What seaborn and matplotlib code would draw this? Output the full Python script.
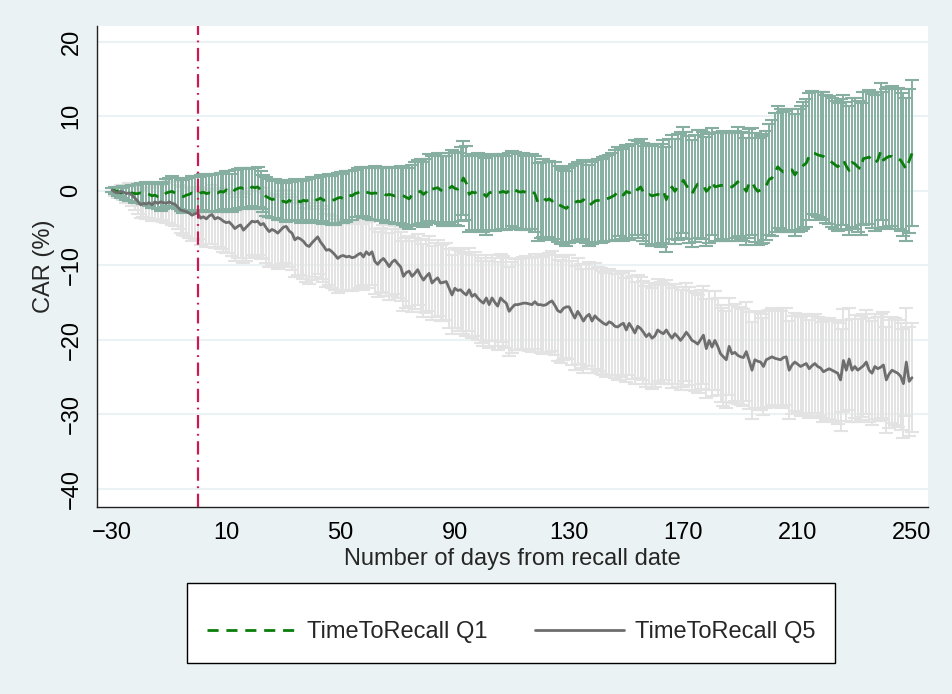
import numpy as np
import pandas as pd
import matplotlib
matplotlib.use("Agg")
import matplotlib.pyplot as plt
from matplotlib.patches import Rectangle
import seaborn as sns

# ---------------- data ----------------
days = np.arange(-30, 251)

q1_mean = [
    0.1, 0.0, -0.1, -0.3, -0.2, -0.3, -0.4, -0.3, -0.4, -0.4,
    -0.3, -0.4, -0.3, -0.5, -0.7, -0.6, -0.8, -0.9, -0.6, -0.3,
    -0.2, -0.1, -0.3, -0.4, -0.6, -0.8, -0.6, -0.5, -0.3, -0.4,
    -0.5, -0.3, -0.2, -0.4, -0.3, -0.4, -0.2, -0.3, -0.1, -0.2,
    0.1, -0.1, -0.3, 0.1, 0.3, 0.4, 0.3, 0.4, 0.2, 0.5,
    0.4, 0.5, 0.1, -0.4, -0.8, -1.0, -1.2, -1.1, -1.3, -1.5,
    -1.4, -1.6, -1.3, -1.5, -1.2, -1.4, -1.5, -1.3, -1.4, -1.2,
    -1.1, -1.3, -1.2, -1.0, -1.3, -1.2, -1.1, -1.3, -1.2, -1.0,
    -0.9, -1.1, -0.8, -0.6, -0.7, -0.4, -0.3, -0.1, -0.3, -0.2,
    -0.3, -0.4, -0.3, -0.4, -0.5, -0.4, -0.6, -0.5, -0.6, -0.7,
    -0.6, -0.6, -0.7, -0.9, -1.1, -0.6, -0.4, -0.2, -0.1, -0.5,
    -0.2, 0.4, 0.2, 0.3, 0.4, 0.1, -0.1, 0.0, 0.3, 0.6,
    0.3, 0.2, 0.9, 1.7, 1.0, -0.5, -0.2, -0.3, -0.1, -0.3,
    -0.4, -0.8, -0.3, -0.2, -0.4, -0.3, -0.2, -0.1, -0.3, 0.0,
    0.3, 0.1, -0.1, -0.2, -0.1, -0.3, -0.2, -0.1, -0.4, -1.5,
    -1.2, -1.0, -1.3, -1.1, -1.4, -1.3, -1.8, -2.0, -2.2, -2.4,
    -2.0, -1.8, -1.6, -1.4, -1.5, -1.2, -1.6, -2.0, -1.7, -1.4,
    -1.3, -1.4, -1.2, -1.1, -1.0, -0.8, -0.6, -0.1, -0.4, -0.6,
    -0.1, -0.3, -0.1, 0.4, 0.1, 0.5, -0.2, -0.6, -0.5, -0.7,
    -0.6, -0.5, -0.6, -0.1, -1.2, -0.1, 0.5, -0.1, 0.5, 0.8,
    1.4, 0.7, 0.2, -0.4, 0.3, 0.9, 0.8, 0.7, -0.1, 0.3,
    1.2, 0.5, 0.6, 0.7, 0.7, 0.5, 0.5, 0.5, 0.8, 1.2,
    0.7, 0.5, -0.1, 1.0, 1.2, 0.4, -0.1, 0.1, 0.3, 0.7,
    1.5, 1.7, 2.4, 3.2, 2.8, 2.5, 2.6, 2.7, 2.8, 2.1,
    2.7, 3.0, 3.4, 3.7, 4.6, 5.1, 5.0, 4.8, 4.7, 4.6,
    4.3, 4.1, 3.8, 3.5, 3.2, 3.6, 4.1, 3.3, 2.7, 3.8,
    3.6, 3.2, 2.9, 4.3, 4.4, 4.5, 4.0, 3.7, 4.1, 5.2,
    4.1, 4.4, 4.6, 4.6, 4.3, 4.3, 4.1, 3.5, 2.9, 4.0,
    5.0,
]

q1_halfwidth = [
    0.3, 0.5, 0.6, 0.7, 0.8, 0.9, 1.0, 1.1, 1.2, 1.3,
    1.3, 1.4, 1.5, 1.5, 1.6, 1.7, 1.7, 1.8, 1.8, 1.9,
    1.9, 2.0, 2.0, 2.1, 2.1, 2.2, 2.2, 2.2, 2.3, 2.3,
    2.3, 2.4, 2.4, 2.4, 2.5, 2.5, 2.5, 2.6, 2.5, 2.6,
    2.6, 2.7, 2.6, 2.7, 2.6, 2.7, 2.7, 2.6, 2.7, 2.6,
    2.6, 2.7, 2.6, 2.5, 2.6, 2.6, 2.5, 2.6, 2.6, 2.5,
    2.6, 2.6, 2.7, 2.6, 2.7, 2.7, 2.8, 2.7, 2.8, 2.8,
    2.9, 3.0, 3.0, 3.1, 3.2, 3.2, 3.3, 3.3, 3.4, 3.4,
    3.4, 3.3, 3.4, 3.3, 3.3, 3.2, 3.3, 3.3, 3.4, 3.4,
    3.5, 3.5, 3.6, 3.5, 3.6, 3.6, 3.7, 3.7, 3.8, 3.8,
    3.8, 3.9, 3.9, 4.0, 4.1, 4.1, 4.2, 4.3, 4.3, 4.4,
    4.4, 4.5, 4.5, 4.5, 4.6, 4.6, 4.7, 4.7, 4.8, 4.8,
    4.9, 4.9, 5.0, 5.0, 5.0, 5.1, 5.1, 5.1, 5.2, 5.2,
    5.1, 5.2, 5.1, 5.1, 5.0, 5.0, 5.1, 5.0, 5.0, 5.1,
    5.0, 5.1, 5.0, 5.1, 5.1, 5.0, 5.0, 5.0, 5.1, 5.2,
    5.1, 5.2, 5.2, 5.1, 5.2, 5.2, 5.1, 5.1, 5.0, 5.0,
    5.0, 5.1, 5.2, 5.2, 5.3, 5.3, 5.4, 5.4, 5.5, 5.5,
    5.6, 5.6, 5.7, 5.7, 5.8, 5.9, 6.0, 6.0, 6.1, 6.2,
    6.2, 6.3, 6.3, 6.4, 6.5, 6.5, 6.6, 6.6, 6.7, 6.7,
    6.8, 6.8, 6.9, 6.9, 7.0, 7.0, 7.0, 7.1, 7.1, 7.1,
    7.1, 7.2, 7.2, 7.2, 7.2, 7.2, 7.3, 7.2, 7.3, 7.3,
    7.2, 7.3, 7.3, 7.2, 7.3, 7.2, 7.3, 7.3, 7.2, 7.3,
    7.2, 7.3, 7.2, 7.3, 7.2, 7.3, 7.2, 7.3, 7.3, 7.3,
    7.5, 7.8, 8.0, 8.2, 8.1, 8.0, 8.1, 8.2, 8.1, 8.2,
    8.3, 8.4, 8.5, 8.6, 8.5, 8.3, 8.3, 8.4, 8.5, 8.6,
    8.6, 8.6, 8.7, 8.6, 8.6, 8.7, 8.7, 8.6, 8.7, 8.7,
    8.8, 8.8, 8.8, 8.9, 8.9, 9.0, 9.0, 9.1, 9.1, 9.2,
    9.2, 9.3, 9.3, 9.4, 9.4, 9.5, 9.5, 9.6, 9.6, 9.7,
    9.8,
]

q5_mean = [
    0.1, -0.2, -0.3, -0.1, -0.2, -0.4, -0.3, -0.6, -1.0, -1.4,
    -1.9, -1.7, -1.8, -1.6, -1.9, -1.5, -1.7, -1.5, -1.6, -1.7,
    -1.5, -1.7, -1.8, -2.2, -2.6, -2.7, -2.8, -3.0, -3.3, -3.1,
    -3.0, -3.7, -3.5, -3.8, -3.4, -3.2, -3.8, -3.6, -3.8, -4.1,
    -4.3, -4.2, -4.6, -5.1, -4.8, -4.6, -5.3, -4.9, -4.5, -4.1,
    -4.2, -4.1, -4.6, -4.4, -5.0, -5.5, -5.2, -5.4, -5.7, -5.3,
    -4.9, -4.8, -5.4, -5.7, -6.6, -6.3, -6.5, -6.8, -7.3, -7.5,
    -7.0, -6.6, -6.2, -6.9, -7.4, -8.0, -7.9, -8.2, -8.6, -9.1,
    -8.8, -8.7, -8.9, -8.8, -9.0, -8.9, -8.6, -8.4, -8.9, -8.2,
    -8.6, -8.2, -9.5, -9.9, -9.4, -9.1, -9.6, -10.2, -9.6, -9.3,
    -9.8, -10.2, -11.5, -11.0, -10.8, -11.5, -11.1, -10.6, -11.4, -12.0,
    -11.5, -11.1, -12.4, -12.0, -11.7, -12.4, -12.3, -12.2, -13.1, -14.0,
    -13.1, -13.4, -13.3, -13.7, -14.0, -13.3, -14.2, -13.9, -14.4, -14.8,
    -15.1, -14.4, -15.3, -14.4, -15.0, -15.5, -14.4, -14.8, -15.1, -16.2,
    -15.7, -15.3, -15.3, -15.2, -15.1, -15.1, -15.2, -15.3, -14.9, -15.3,
    -15.3, -15.4, -15.3, -15.0, -14.8, -15.4, -16.1, -16.3, -15.8, -15.6,
    -15.6, -16.4, -17.1, -16.2, -16.8, -17.5, -16.9, -16.6, -17.5, -16.8,
    -17.2, -17.5, -17.8, -18.0, -17.6, -17.8, -18.2, -18.3, -18.0, -17.8,
    -18.7, -17.8, -18.4, -19.1, -18.2, -18.5, -19.0, -19.6, -19.2, -19.8,
    -19.5, -18.7, -19.0, -19.2, -18.7, -19.3, -19.8, -19.2, -19.6, -20.1,
    -19.6, -19.0, -19.5, -20.1, -20.3, -20.6, -20.0, -19.4, -21.2, -20.1,
    -21.0, -20.1, -20.9, -21.9, -22.3, -22.7, -20.9, -21.9, -21.7, -22.1,
    -22.3, -22.4, -21.6, -22.8, -24.1, -22.7, -22.9, -23.0, -23.6, -22.7,
    -22.5, -22.3, -22.5, -22.6, -22.7, -22.4, -22.3, -24.1, -23.4, -23.0,
    -23.3, -23.6, -23.4, -23.2, -23.9, -23.5, -23.2, -23.6, -23.8, -24.3,
    -24.1, -23.9, -24.1, -24.3, -24.5, -25.4, -22.8, -24.1, -22.6, -24.1,
    -23.6, -24.1, -23.8, -23.5, -23.0, -24.1, -24.5, -23.6, -23.9, -23.7,
    -23.4, -25.4, -24.6, -24.1, -24.3, -24.5, -24.9, -25.9, -23.0, -25.6,
    -25.1,
]

q5_halfwidth = [
    0.3, 0.5, 0.7, 0.9, 1.0, 1.2, 1.3, 1.5, 1.6, 1.7,
    1.8, 1.9, 2.0, 2.1, 2.2, 2.3, 2.4, 2.5, 2.6, 2.7,
    2.8, 2.9, 3.0, 3.0, 3.1, 3.2, 3.3, 3.3, 3.4, 3.5,
    3.5, 3.6, 3.7, 3.7, 3.8, 3.9, 3.9, 4.0, 4.0, 4.1,
    4.1, 4.2, 4.2, 4.3, 4.3, 4.4, 4.4, 4.5, 4.5, 4.5,
    4.6, 4.6, 4.6, 4.7, 4.7, 4.7, 4.8, 4.8, 4.8, 4.8,
    4.9, 4.9, 4.9, 4.9, 5.0, 5.0, 5.0, 5.0, 5.0, 5.0,
    5.0, 5.0, 5.0, 4.9, 4.9, 4.9, 4.8, 4.8, 4.8, 4.7,
    4.7, 4.6, 4.6, 4.6, 4.5, 4.5, 4.5, 4.4, 4.4, 4.4,
    4.4, 4.4, 4.4, 4.4, 4.4, 4.5, 4.5, 4.5, 4.5, 4.6,
    4.6, 4.6, 4.7, 4.7, 4.7, 4.8, 4.8, 4.8, 4.9, 4.9,
    4.9, 5.0, 5.0, 5.0, 5.1, 5.1, 5.2, 5.2, 5.3, 5.3,
    5.4, 5.4, 5.5, 5.5, 5.5, 5.6, 5.6, 5.6, 5.7, 5.7,
    5.7, 5.8, 5.8, 5.8, 5.9, 5.9, 5.9, 6.0, 6.0, 6.0,
    6.1, 6.1, 6.1, 6.2, 6.2, 6.3, 6.3, 6.3, 6.4, 6.4,
    6.5, 6.5, 6.6, 6.6, 6.7, 6.7, 6.8, 6.8, 6.9, 6.9,
    7.0, 7.0, 7.0, 7.1, 7.0, 7.0, 7.1, 7.0, 7.0, 7.1,
    7.0, 7.1, 7.0, 7.0, 7.1, 7.0, 7.0, 7.1, 7.0, 7.0,
    7.0, 7.0, 6.9, 6.9, 6.9, 6.9, 6.9, 6.8, 6.8, 6.8,
    6.8, 6.8, 6.8, 6.8, 6.7, 6.7, 6.7, 6.7, 6.7, 6.7,
    6.7, 6.6, 6.6, 6.6, 6.6, 6.6, 6.6, 6.6, 6.6, 6.6,
    6.5, 6.6, 6.5, 6.5, 6.6, 6.5, 6.5, 6.6, 6.5, 6.5,
    6.5, 6.5, 6.6, 6.5, 6.5, 6.5, 6.6, 6.5, 6.5, 6.5,
    6.5, 6.5, 6.6, 6.5, 6.5, 6.6, 6.5, 6.6, 6.6, 6.6,
    6.6, 6.6, 6.6, 6.7, 6.6, 6.7, 6.7, 6.6, 6.7, 6.7,
    6.7, 6.8, 6.7, 6.8, 6.8, 6.8, 6.9, 6.8, 6.9, 6.9,
    6.9, 6.9, 7.0, 6.9, 7.0, 7.0, 7.0, 7.1, 7.0, 7.1,
    7.1, 7.1, 7.2, 7.1, 7.2, 7.2, 7.2, 7.3, 7.2, 7.3,
    7.3,
]

series_labels = ["TimeToRecall Q1", "TimeToRecall Q5"]
x_ticks = [-30, 10, 50, 90, 130, 170, 210, 250]
y_ticks = [-40, -30, -20, -10, 0, 10, 20]
event_day = 0

assert len(q1_mean) == len(days) == len(q5_mean) == len(q1_halfwidth) == len(q5_halfwidth)

df1 = pd.DataFrame({"day": days, "car": q1_mean, "hw": q1_halfwidth})
df5 = pd.DataFrame({"day": days, "car": q5_mean, "hw": q5_halfwidth})

# ---------------- style ----------------
sns.set_style("white")
plt.rcParams["font.family"] = ["Liberation Sans", "DejaVu Sans"]
FS = 17

BG = "#EAF2F3"
GREEN = "#0A7D0A"
GREEN_CI = "#86AFA1"
GRAY = "#6E6E6E"
GRAY_CI = "#E3E3E3"
RED = "#CC1A50"

fig = plt.figure(figsize=(9.53, 6.94), dpi=100, facecolor=BG)
ax = fig.add_axes([97 / 953, 1 - 507 / 694, (928 - 97) / 953, (507 - 26) / 694])
ax.set_facecolor("white")

# CI bars (range caps)
ax.errorbar(df5.day, df5.car, yerr=df5.hw, fmt="none", ecolor=GRAY_CI,
            elinewidth=1.4, capsize=4.8, capthick=1.5, zorder=2)
ax.errorbar(df1.day, df1.car, yerr=df1.hw, fmt="none", ecolor=GREEN_CI,
            elinewidth=1.4, capsize=4.8, capthick=1.5, zorder=3)

# mean lines via seaborn
sns.lineplot(data=df1, x="day", y="car", color=GREEN, lw=2.0, estimator=None,
             ax=ax, zorder=5, label=series_labels[0])
h1 = ax.get_lines()[-1]
h1.set_dashes((4.0, 2.8))
sns.lineplot(data=df5, x="day", y="car", color=GRAY, lw=2.0, estimator=None,
             ax=ax, zorder=5, label=series_labels[1])
h5 = ax.get_lines()[-1]
ax.get_legend().remove()

# event line
ax.axvline(event_day, color=RED, lw=1.6, dashes=(6, 2.5, 0.8, 2.5), zorder=6)

# axes
ax.set_xlim(-35.25, 255.6)
ax.set_ylim(-42.46, 22.1)
ax.set_xticks(x_ticks)
ax.set_yticks(y_ticks)
ax.set_xticklabels(["\u2212" + str(-t) if t < 0 else str(t) for t in x_ticks], fontsize=FS)
ax.set_yticklabels(["\u2212" + str(-t) if t < 0 else str(t) for t in y_ticks], fontsize=FS,
                   rotation=90, va="center")
ax.grid(axis="y", color=BG, lw=1.5, zorder=0)
ax.set_axisbelow(True)
for s in ["top", "right"]:
    ax.spines[s].set_visible(False)
for s in ["left", "bottom"]:
    ax.spines[s].set_color("#222222")
    ax.spines[s].set_linewidth(1.0)
ax.tick_params(axis="both", direction="out", length=7.5, width=1.0, color="#222222",
               labelcolor="black")
ax.tick_params(axis="x", pad=3)
ax.tick_params(axis="y", pad=3)
ax.set_xlabel("Number of days from recall date", fontsize=FS, labelpad=3)
ax.set_ylabel("CAR (%)", fontsize=FS, labelpad=4)

# legend box
fig.add_artist(Rectangle((187 / 953, 1 - 663 / 694), (835 - 187) / 953, (663 - 583) / 694,
                         transform=fig.transFigure, facecolor="white",
                         edgecolor="black", lw=1.0, zorder=1))
fig.legend([h1, h5], series_labels, loc="center",
           bbox_to_anchor=(511 / 953, 1 - 632 / 694), ncol=2, frameon=False,
           fontsize=FS, handlelength=3.8, handletextpad=0.45, columnspacing=2.0)

fig.savefig("out.png", dpi=100, facecolor=BG)
